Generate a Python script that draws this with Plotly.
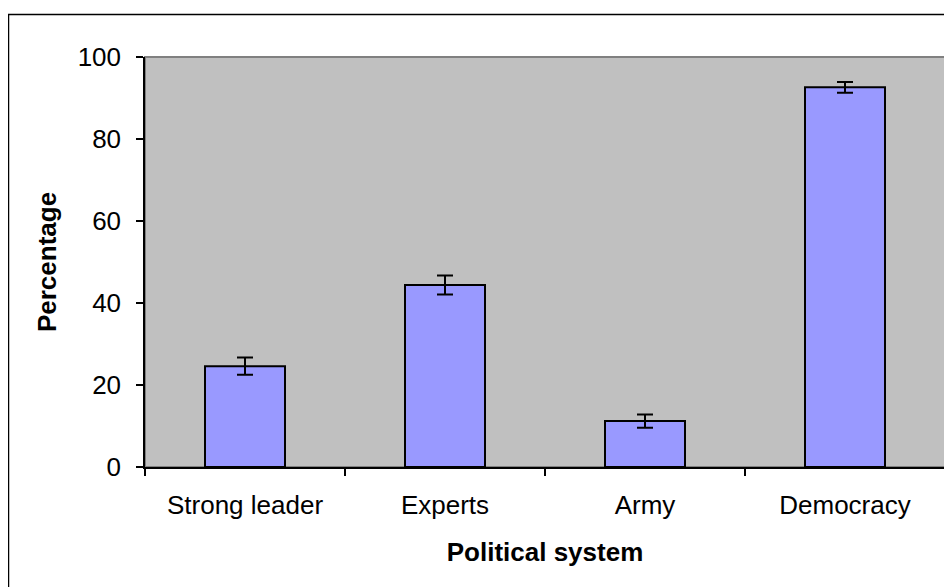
import plotly.graph_objects as go

categories = ["Strong leader", "Experts", "Army", "Democracy"]
values = [24.6, 44.4, 11.2, 92.6]
errors = [2.1, 2.3, 1.6, 1.3]
y_ticks = [0, 20, 40, 60, 80, 100]

# page has an 8px body margin; figure coordinates are page coordinates minus 8
OFF = 8
W, H = 944, 579
L, R, T, B = 137, 7, 49, 120
pw, ph = W - L - R, H - T - B

def px_x(x_page):
    return (x_page - OFF - L) / pw

def px_y(y_page):
    return (H - B - (y_page - OFF)) / ph

font = "Liberation Sans, Arial, sans-serif"

fig = go.Figure(go.Bar(
    x=categories, y=values, width=0.4,
    marker=dict(color="#9999FF", line=dict(color="black", width=2)),
    error_y=dict(type="data", array=errors, visible=True, color="black", thickness=2, width=8),
))

fig.update_layout(
    width=W, height=H,
    margin=dict(l=L, r=R, t=T, b=B),
    paper_bgcolor="white", plot_bgcolor="#C0C0C0",
    showlegend=False,
    font=dict(family=font, size=26, color="black"),
    xaxis=dict(
        showgrid=False, showline=True, linecolor="black", linewidth=1.5,
        ticks="outside", tickson="boundaries", ticklen=7, tickcolor="black", tickwidth=1.5,
        ticklabelstandoff=14,
        title=dict(text="<b>Political system</b>", font=dict(size=26), standoff=24),
    ),
    yaxis=dict(
        range=[0, 100], tickvals=y_ticks, showgrid=False, zeroline=False,
        showline=True, linecolor="black", linewidth=1.5,
        ticks="outside", ticklen=7, tickcolor="black", tickwidth=1.5,
        ticklabelstandoff=10,
        title=dict(text="<b>Percentage</b>", font=dict(size=26), standoff=14),
    ),
    shapes=[
        dict(type="rect", xref="paper", yref="paper", x0=0, x1=1, y0=0, y1=1,
             line=dict(color="#808080", width=2), fillcolor="rgba(0,0,0,0)", layer="below"),
        dict(type="rect", xref="paper", yref="paper",
             x0=px_x(8.5), x1=px_x(980), y0=px_y(620), y1=px_y(14.5),
             line=dict(color="black", width=1.5), fillcolor="rgba(0,0,0,0)"),
    ],
)

fig.write_html("out.html")
